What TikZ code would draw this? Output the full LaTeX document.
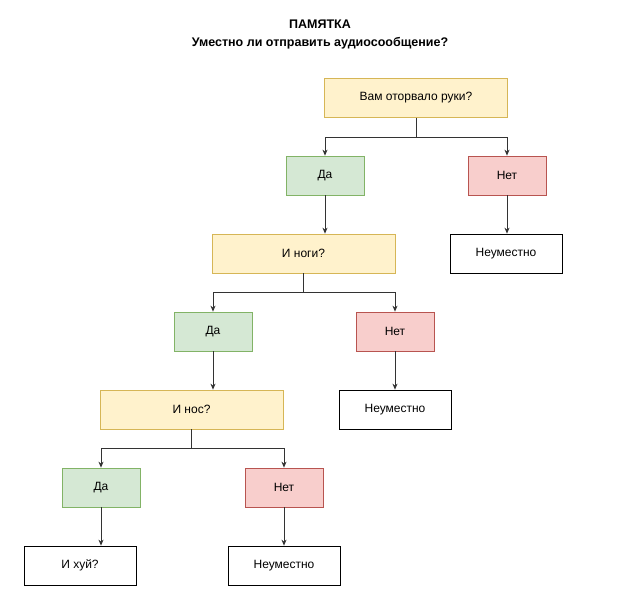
\documentclass[tikz,border=0pt]{standalone}
\usepackage{fontspec}
\setmainfont{Liberation Sans}
\usetikzlibrary{arrows.meta}
\begin{document}
\begin{tikzpicture}[x=1pt,y=-1pt,
  box/.style={draw,minimum height=39pt,font=\fontsize{12}{14}\selectfont,line width=0.7pt},
  yel/.style={box,fill=yellow!20!white,draw=yellow!50!orange!80!black,minimum width=183pt,fill={rgb,255:red,255;green,242;blue,204},draw={rgb,255:red,214;green,182;blue,86}},
  grn/.style={box,minimum width=78pt,fill={rgb,255:red,213;green,232;blue,212},draw={rgb,255:red,130;green,179;blue,102}},
  rd/.style={box,minimum width=78pt,fill={rgb,255:red,248;green,206;blue,204},draw={rgb,255:red,184;green,84;blue,80}},
  wh/.style={box,minimum width=112pt,fill=white,draw=black},
  arr/.style={draw=black!80,line width=0.7pt,-{Stealth[length=6pt,width=5pt]}},
  ln/.style={draw=black!80,line width=0.7pt}]
\useasboundingbox[fill=white] (0,0) rectangle (640,599);
\node (t1) at (320,24) {\fontsize{12.5}{14}\selectfont\bfseries ПАМЯТКА};
\node (t2) at (320,43) {\fontsize{12.5}{14}\selectfont\bfseries Уместно ли отправить аудиосообщение?};
\node[yel] (q1) at (416,98) {Вам оторвало руки?};
\node[grn] (y1) at (325,175.5) {Да};
\node[rd] (n1) at (507,175.5) {Нет};
\node[wh] (u1) at (506,253.5) {Неуместно};
\node[yel] (q2) at (303.5,253.5) {И ноги?};
\node[grn] (y2) at (213,331.5) {Да};
\node[rd] (n2) at (395,331.5) {Нет};
\node[wh] (u2) at (395,409.5) {Неуместно};
\node[yel] (q3) at (191.5,409.5) {И нос?};
\node[grn] (y3) at (101,487.5) {Да};
\node[rd] (n3) at (284,487.5) {Нет};
\node[wh] (u3) at (80,565.5) {И хуй?};
\node[wh] (u4) at (284,565.5) {Неуместно};
\coordinate (c1) at (416,137);
\coordinate (c2) at (303.5,292);
\coordinate (c3) at (191.5,448);
\draw[ln] (q1.south) -- (c1);
\draw[arr] (c1) -| (y1.north);
\draw[arr] (c1) -| (n1.north);
\draw[arr] (n1.south) -- (n1.south|-u1.north);
\draw[arr] (y1.south) -- (y1.south|-q2.north);
\draw[ln] (q2.south) -- (c2);
\draw[arr] (c2) -| (y2.north);
\draw[arr] (c2) -| (n2.north);
\draw[arr] (n2.south) -- (u2.north);
\draw[arr] (y2.south) -- (y2.south|-q3.north);
\draw[ln] (q3.south) -- (c3);
\draw[arr] (c3) -| (y3.north);
\draw[arr] (c3) -| (n3.north);
\draw[arr] (y3.south) -- (y3.south|-u3.north);
\draw[arr] (n3.south) -- (u4.north);
\end{tikzpicture}
\end{document}
